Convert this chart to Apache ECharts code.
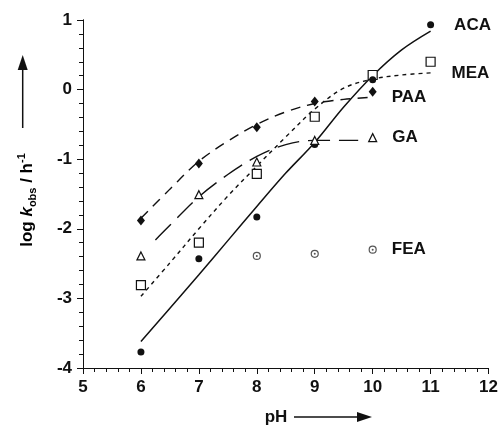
<!DOCTYPE html>
<html>
<head>
<meta charset="utf-8">
<script src="https://cdn.jsdelivr.net/npm/echarts@6/dist/echarts.min.js"></script>
<style>
  html, body { margin: 0; padding: 0; background: #fff; }
  #chart { width: 501px; height: 426px; }
</style>
</head>
<body>
<div id="chart"></div>
<script>
// measured points (pH vs log k_obs)
const phAll = [6, 7, 8, 9, 10, 11]
const acaPts = [-3.77, -2.43, -1.83, -0.79, 0.14, 0.93]
const meaPts = [-2.81, -2.20, -1.21, -0.39, 0.21, 0.40]
const phPaa = [6, 7, 8, 9, 10]
const paaPts = [-1.88, -1.06, -0.54, -0.17, -0.03]
const gaPts = [-2.39, -1.51, -1.04, -0.73, -0.69]
const phFea = [8, 9, 10]
const feaPts = [-2.39, -2.36, -2.30]

// fitted curves
const fitPh = [6, 6.5, 7, 7.5, 8, 8.5, 9, 9.5, 10, 10.5, 11]
const acaFit = [-3.62, -3.14, -2.66, -2.17, -1.68, -1.20, -0.76, -0.25, 0.20, 0.57, 0.84]
const meaFit = [-2.97, -2.49, -2.0, -1.53, -1.1, -0.68, -0.28, 0.02, 0.15, 0.21, 0.24]
const paaFitPh = [6, 6.5, 7, 7.5, 8, 8.5, 9, 9.5, 10]
const paaFit = [-1.85, -1.43, -1.03, -0.74, -0.50, -0.32, -0.20, -0.14, -0.11]
const gaFitPh = [6.25, 6.5, 7, 7.5, 8, 8.5, 9, 9.5, 9.75]
const gaFit = [-2.16, -1.95, -1.54, -1.22, -0.96, -0.79, -0.73, -0.73, -0.73]

const xTicks = [5, 12]
const yTicks = [-4, 1]

const font = 'Liberation Sans, Arial, sans-serif'

function zip(xs, ys) {
  return xs.map((x, i) => [x, ys[i]])
}

function lastLabel(name, n, dist) {
  return {
    show: true,
    position: 'right',
    distance: dist,
    color: '#111',
    fontFamily: font,
    fontWeight: 'bold',
    fontSize: 17,
    formatter: (p) => (p.dataIndex === n - 1 ? name : '')
  }
}

function fitLine(xs, ys, dash, width) {
  return {
    type: 'line',
    data: zip(xs, ys),
    smooth: 0.35,
    symbol: 'none',
    silent: true,
    lineStyle: { color: '#111', width: width, type: dash },
    z: 2
  }
}

function points(xs, ys, symbol, size, fill, border) {
  return {
    type: 'scatter',
    data: zip(xs, ys),
    symbol: symbol,
    symbolSize: size,
    itemStyle: { color: fill, borderColor: border, borderWidth: border ? 1.2 : 0, opacity: 1 },
    z: 4
  }
}

const chart = echarts.init(document.getElementById('chart'))

const axisCommon = {
  type: 'value',
  interval: 1,
  splitLine: { show: false },
  axisLine: { show: true, onZero: false, lineStyle: { color: '#111', width: 1 } },
  axisTick: { show: true, inside: false, length: 6, lineStyle: { color: '#111', width: 1 } },
  minorTick: { show: true, splitNumber: 5, length: 4, lineStyle: { color: '#111', width: 1 } },
  axisLabel: {
    color: '#111',
    fontFamily: font,
    fontWeight: 'bold',
    fontSize: 17,
    margin: 11
  }
}

// second axis pair only for the small 0.2 ticks
const minorAxis = {
  type: 'value',
  interval: 0.2,
  splitLine: { show: false },
  axisLine: { show: true, onZero: false, lineStyle: { color: '#111', width: 1 } },
  axisTick: { show: true, inside: false, length: 4, lineStyle: { color: '#111', width: 1 } },
  axisLabel: { show: false }
}

const meaLine = fitLine(fitPh, meaFit, [4, 4], 1.4)
meaLine.endLabel = {
  show: true, formatter: 'MEA', distance: 21, color: '#111',
  fontFamily: font, fontWeight: 'bold', fontSize: 17
}
const paaLine = fitLine(paaFitPh, paaFit, [10, 7], 1.4)
paaLine.endLabel = {
  show: true, formatter: 'PAA', distance: 19, color: '#111',
  fontFamily: font, fontWeight: 'bold', fontSize: 17
}

const acaScatter = points(phAll, acaPts, 'circle', 7, '#111')
acaScatter.label = lastLabel('ACA', phAll.length, 20)
const gaScatter = points(phPaa, gaPts, 'triangle', 8, '#fff', '#111')
gaScatter.label = lastLabel('GA', phPaa.length, 15)
const feaScatter = points(phFea, feaPts, 'circle', 7, '#fff', '#555')
feaScatter.label = lastLabel('FEA', phFea.length, 15)
const feaDots = points(phFea, feaPts, 'circle', 2, '#555')
feaDots.z = 5

chart.setOption({
  animation: false,
  grid: { left: 83, right: 12, top: 20, bottom: 58 },
  xAxis: [
    Object.assign({}, axisCommon, { min: xTicks[0], max: xTicks[1] }),
    Object.assign({}, minorAxis, { min: xTicks[0], max: xTicks[1], position: 'bottom', offset: 0 })
  ],
  yAxis: [
    Object.assign({}, axisCommon, { min: yTicks[0], max: yTicks[1] }),
    Object.assign({}, minorAxis, { min: yTicks[0], max: yTicks[1], position: 'left', offset: 0 })
  ],
  series: [
    fitLine(fitPh, acaFit, 'solid', 1.5),
    meaLine,
    paaLine,
    fitLine(gaFitPh, gaFit, [22, 9], 1.4),
    points(phAll, meaPts, 'rect', 9, '#fff', '#111'),
    acaScatter,
    points(phPaa, paaPts, 'diamond', [8, 10], '#111'),
    gaScatter,
    feaScatter,
    feaDots
  ],
  graphic: [
    {
      type: 'text',
      x: 27, y: 200,
      rotation: Math.PI / 2,
      style: {
        text: '{a|log }{i|k}{s|obs}{a| / h}{p|-1}',
        align: 'center',
        verticalAlign: 'middle',
        rich: {
          a: { fontFamily: font, fontWeight: 'bold', fontSize: 17, lineHeight: 22, color: '#111' },
          i: { fontFamily: font, fontWeight: 'bold', fontStyle: 'italic', fontSize: 17, lineHeight: 22, color: '#111' },
          s: { fontFamily: font, fontWeight: 'bold', fontSize: 11, lineHeight: 12, verticalAlign: 'bottom', color: '#111' },
          p: { fontFamily: font, fontWeight: 'bold', fontSize: 11, lineHeight: 14, verticalAlign: 'top', color: '#111' }
        }
      }
    },
    { type: 'line', shape: { x1: 22.7, y1: 128, x2: 22.7, y2: 66 }, style: { stroke: '#111', lineWidth: 1.5 } },
    { type: 'polygon', shape: { points: [[17.7, 70], [27.7, 70], [22.7, 55]] }, style: { fill: '#111' } },
    {
      type: 'text', x: 276, y: 417,
      style: {
        text: 'pH', align: 'center', verticalAlign: 'middle',
        font: 'bold 17px ' + font, fill: '#111'
      }
    },
    { type: 'line', shape: { x1: 294, y1: 417, x2: 360, y2: 417 }, style: { stroke: '#111', lineWidth: 1.5 } },
    { type: 'polygon', shape: { points: [[357, 412], [357, 422], [372, 417]] }, style: { fill: '#111' } }
  ]
})
</script>
</body>
</html>
